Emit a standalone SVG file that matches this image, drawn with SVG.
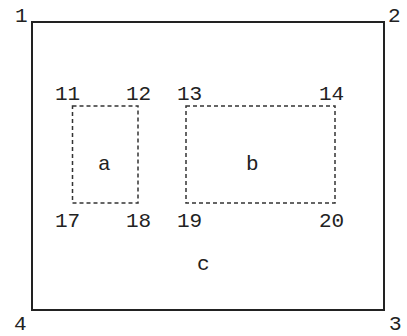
<svg xmlns="http://www.w3.org/2000/svg" width="407" height="336" viewBox="0 0 407 336">
<style>
text{font-family:"Liberation Mono","DejaVu Sans Mono",monospace;font-size:21px;fill:#222}
.outer{fill:none;stroke:#222;stroke-width:2}
.dot{fill:none;stroke:#333;stroke-width:1.5;stroke-dasharray:4,3}
</style>
<rect width="407" height="336" fill="#fff"/>
<g id="c">
<rect class="outer" x="32" y="22" width="352" height="288"/>
<text x="197" y="270">c</text>
</g>
<g id="a">
<rect class="dot" x="72.5" y="106" width="65.5" height="97"/>
<text x="98" y="170">a</text>
</g>
<g id="b">
<rect class="dot" x="186" y="106" width="149" height="97"/>
<text x="246" y="170">b</text>
</g>
<g id="labels">
<text x="15" y="22">1</text>
<text x="388" y="22">2</text>
<text x="389" y="330">3</text>
<text x="14" y="330">4</text>
<text x="55" y="100">11</text>
<text x="126" y="100">12</text>
<text x="177" y="100">13</text>
<text x="319" y="100">14</text>
<text x="55" y="227">17</text>
<text x="126" y="227">18</text>
<text x="177" y="227">19</text>
<text x="319" y="227">20</text>
</g>
<g id="connectors"></g>
</svg>
